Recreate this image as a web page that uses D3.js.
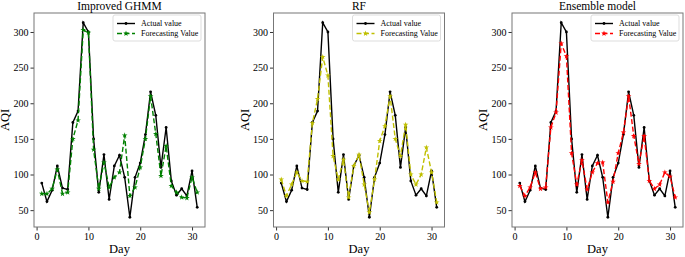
<!DOCTYPE html>
<html>
<head>
<meta charset="UTF-8">
<title>AQI forecasting</title>
<script src="https://cdn.jsdelivr.net/npm/d3@7"></script>
<style>
  body { margin: 0; background: #fff; }
  text { font-family: "Liberation Serif", "Times New Roman", serif; fill: #000; }
  .tick text { font-size: 10px; }
  .tick line { stroke: #333; }
  .domain { display: none; }
</style>
</head>
<body>
<svg id="chart" width="685" height="257"></svg>
<script>
// days 1..31
var days = d3.range(1, 32);

var actual = [88, 62, 78, 112, 81, 79, 173, 189, 313, 300, 150, 75, 128, 65, 112, 127, 96, 40, 96, 116,
              156, 216, 183, 110, 166, 91, 71, 80, 70, 105, 54];

var ghmm = [73, 73, 80, 107, 73, 75, 150, 176, 303, 299, 135, 80, 117, 82, 96, 103, 155, 70, 82, 110,
            150, 210, 157, 98, 140, 84, 75, 68, 67, 96, 75];

var rf = [93, 70, 86, 103, 91, 90, 172, 206, 265, 239, 126, 93, 121, 68, 112, 128, 86, 47, 93, 147,
          168, 210, 150, 126, 170, 100, 86, 100, 138, 103, 61];

var ensemble = [84, 70, 82, 103, 80, 82, 166, 187, 284, 266, 130, 86, 120, 79, 103, 116, 117, 61, 90, 130,
                159, 210, 154, 115, 154, 91, 80, 86, 103, 97, 68];

var titles = ["Improved GHMM", "RF", "Ensemble model"];
var colors = ["#008000", "#bfbf00", "#ff0000"];
var forecasts = [ghmm, rf, ensemble];
var xTicks = [0, 10, 20, 30];
var yTicks = [50, 100, 150, 200, 250, 300];
var legendLabels = ["Actual value", "Forecasting Value"];

var svg = d3.select("#chart");
var lefts = [34, 273.5, 512];
var pw = 171, plotTop = 13, plotBottom = 227;

var y = d3.scaleLinear().domain([26.35, 326.65]).range([plotBottom, plotTop]);

lefts.forEach(function(left, i) {
    var x = d3.scaleLinear().domain([-0.5, 32.5]).range([left, left + pw]);
    var g = svg.append("g");

    g.append("g").attr("transform", "translate(0," + plotBottom + ")")
        .call(d3.axisBottom(x).tickValues(xTicks).tickSize(3.5).tickPadding(2));
    g.append("g").attr("transform", "translate(" + left + ",0)")
        .call(d3.axisLeft(y).tickValues(yTicks).tickSize(3.5).tickPadding(2));

    g.append("rect").attr("x", left).attr("y", plotTop).attr("width", pw).attr("height", plotBottom - plotTop)
        .attr("fill", "none").attr("stroke", "#777").attr("stroke-width", 1);

    g.append("text").attr("x", left + pw / 2).attr("y", plotTop - 3)
        .attr("text-anchor", "middle").style("font-size", "11.5px").text(titles[i]);
    g.append("text").attr("x", left + pw / 2).attr("y", 253)
        .attr("text-anchor", "middle").style("font-size", "12.5px").text("Day");
    g.append("text").attr("transform", "translate(" + (left - 25) + "," + ((plotTop + plotBottom) / 2) + ") rotate(-90)")
        .attr("text-anchor", "middle").style("font-size", "12.5px").text("AQI");

    var line = d3.line().x(function(d, j) { return x(days[j]); }).y(function(d) { return y(d); });

    g.append("path").datum(actual).attr("d", line)
        .attr("fill", "none").attr("stroke", "#000").attr("stroke-width", 1.4);
    g.selectAll(".am").data(actual).enter().append("circle")
        .attr("cx", function(d, j) { return x(days[j]); }).attr("cy", function(d) { return y(d); })
        .attr("r", 1.4).attr("fill", "#000");

    g.append("path").datum(forecasts[i]).attr("d", line)
        .attr("fill", "none").attr("stroke", colors[i]).attr("stroke-width", 1.4)
        .attr("stroke-dasharray", "5,2.5");
    g.selectAll(".fm").data(forecasts[i]).enter().append("path")
        .attr("d", d3.symbol().type(d3.symbolStar).size(10))
        .attr("transform", function(d, j) { return "translate(" + x(days[j]) + "," + y(d) + ")"; })
        .attr("fill", colors[i]);

    // legend
    var lx = left + pw - 92, ly = plotTop + 2;
    var lg = g.append("g");
    lg.append("rect").attr("x", lx).attr("y", ly).attr("width", 88).attr("height", 26).attr("rx", 2)
        .attr("fill", "#fff").attr("stroke", "#ddd");
    [0, 1].forEach(function(k) {
        var yy = ly + 8.5 + k * 10;
        lg.append("line").attr("x1", lx + 4).attr("x2", lx + 22).attr("y1", yy).attr("y2", yy)
            .attr("stroke", k === 0 ? "#000" : colors[i]).attr("stroke-width", 1.4)
            .attr("stroke-dasharray", k === 0 ? null : "5,2.5");
        if (k === 0) {
            lg.append("circle").attr("cx", lx + 13).attr("cy", yy).attr("r", 1.4).attr("fill", "#000");
        } else {
            lg.append("path").attr("d", d3.symbol().type(d3.symbolStar).size(10))
                .attr("transform", "translate(" + (lx + 13) + "," + yy + ")").attr("fill", colors[i]);
        }
        lg.append("text").attr("x", lx + 28).attr("y", yy + 2.8)
            .style("font-size", "8px").text(legendLabels[k]);
    });
});
</script>
</body>
</html>
